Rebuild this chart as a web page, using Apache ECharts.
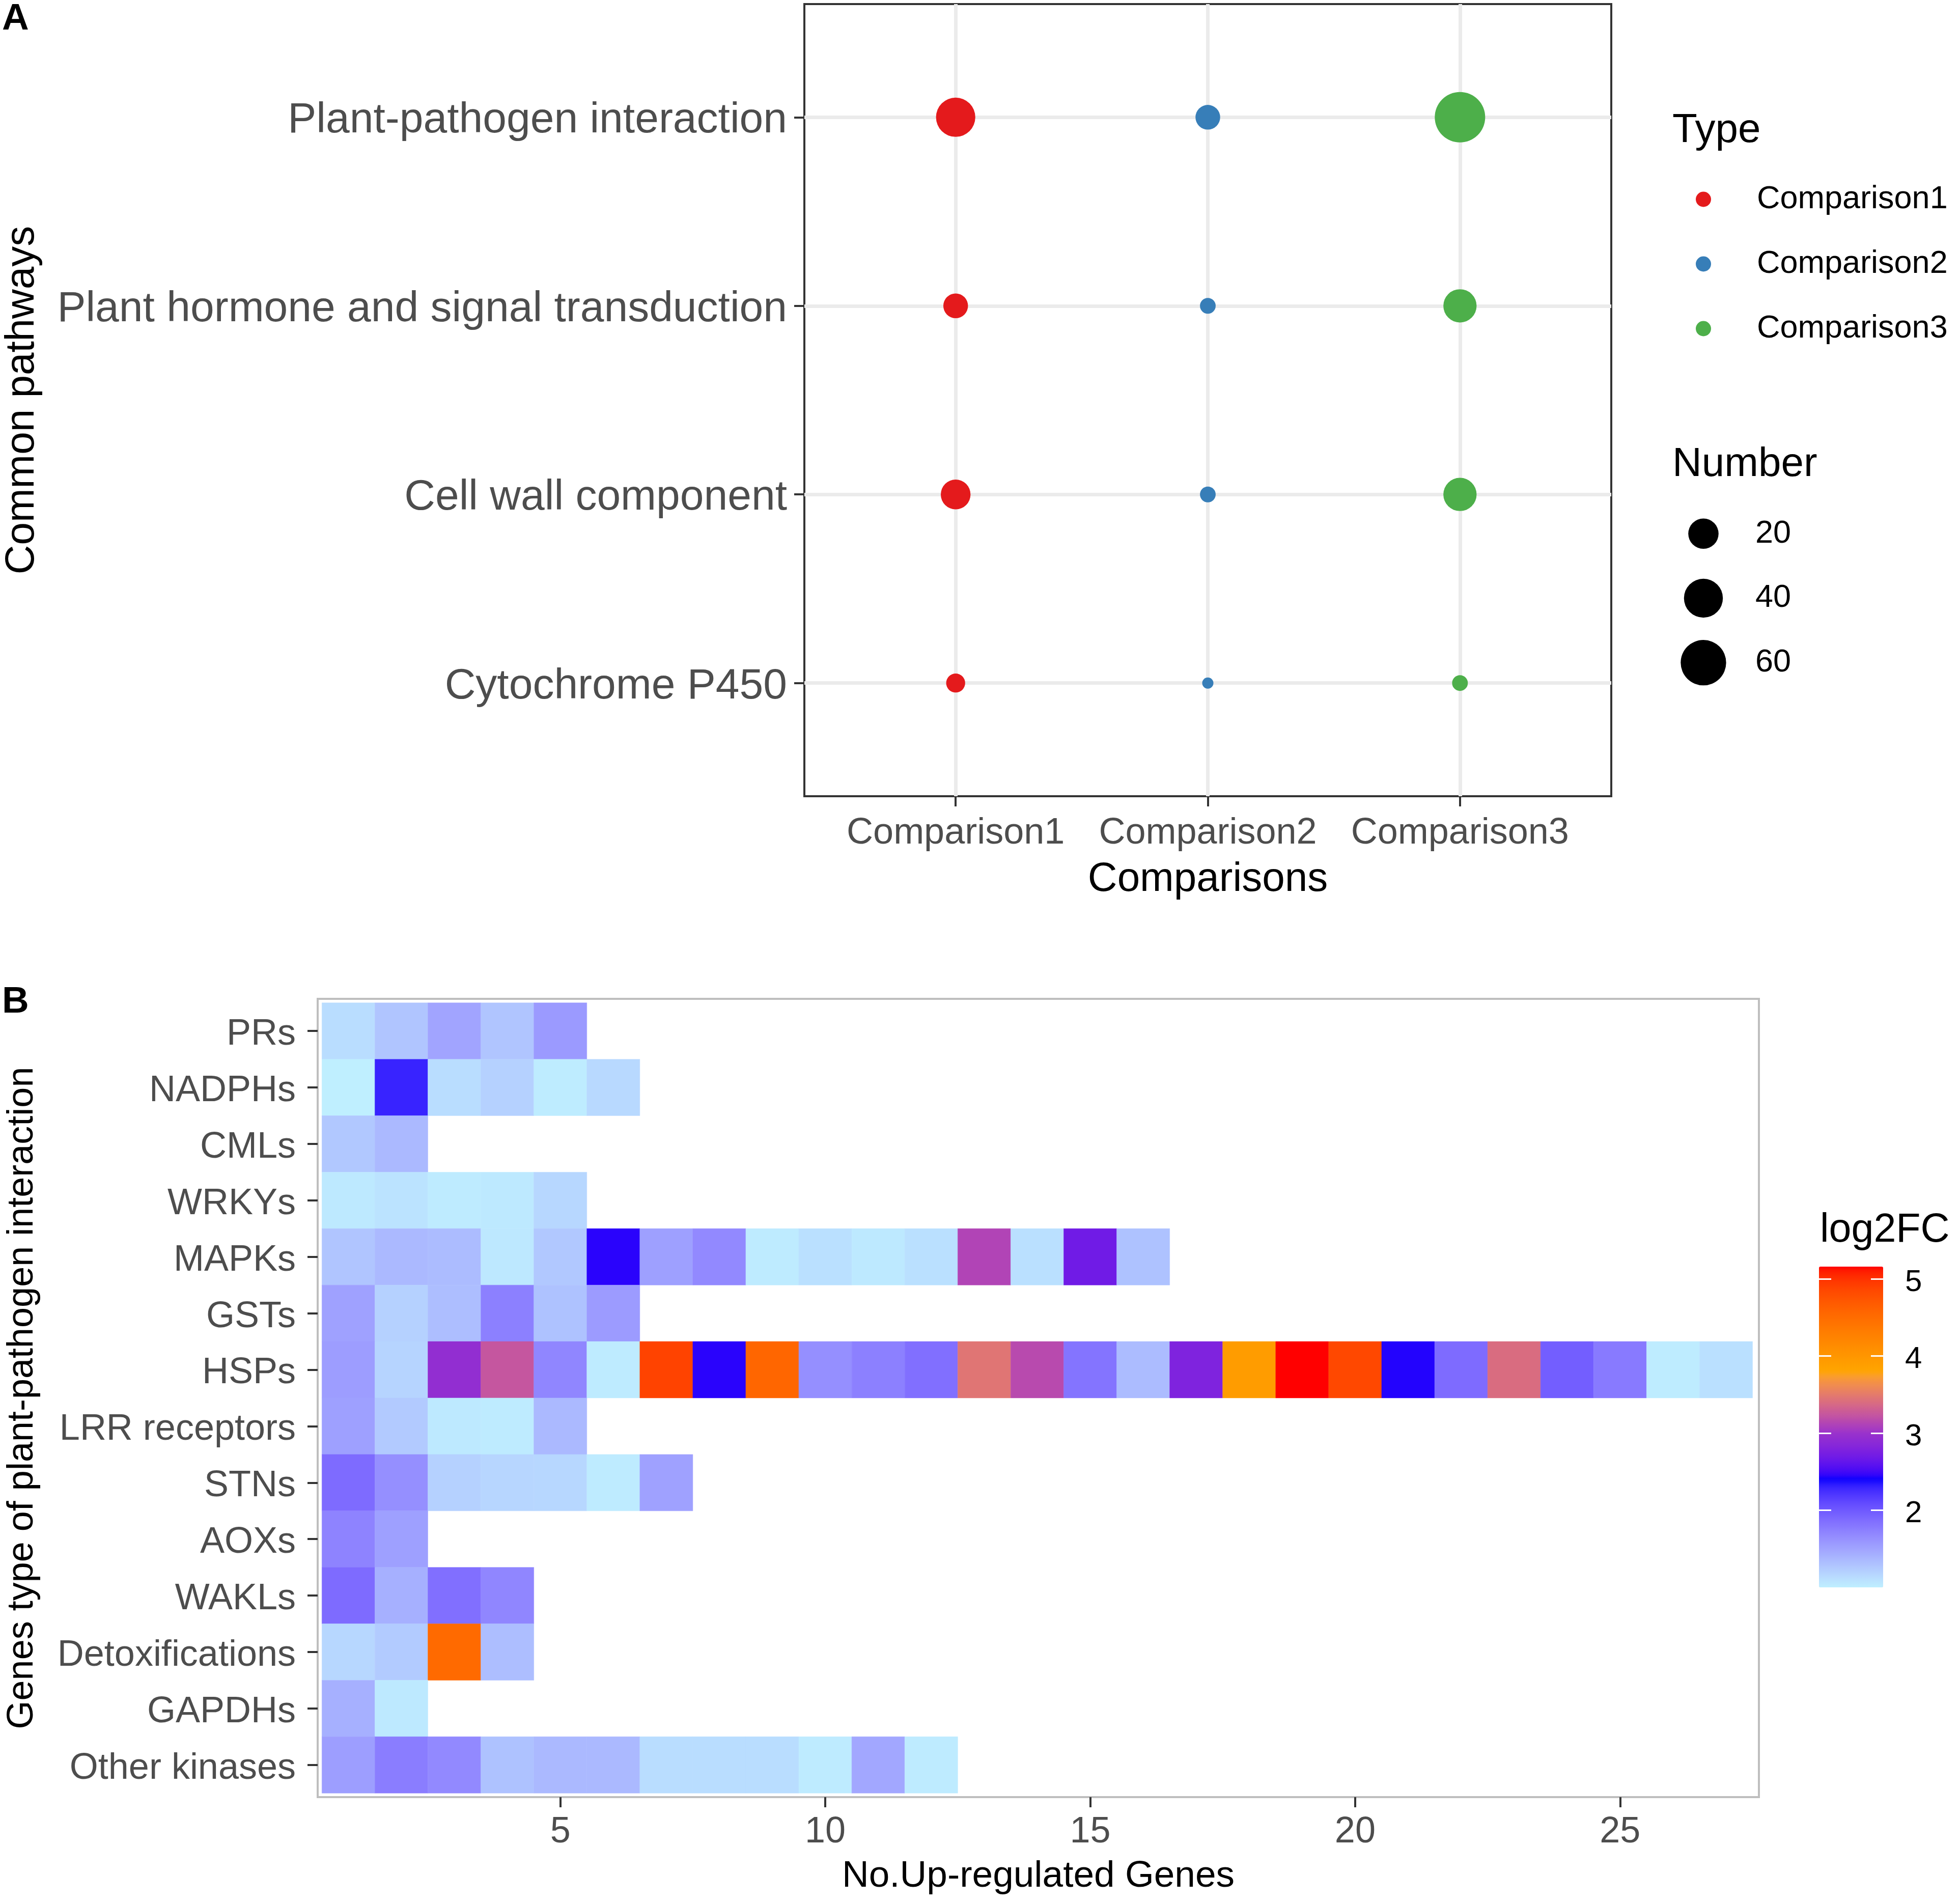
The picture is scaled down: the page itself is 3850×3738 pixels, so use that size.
<!DOCTYPE html>
<html><head><meta charset="utf-8">
<script src="https://cdn.jsdelivr.net/npm/echarts@6/dist/echarts.min.js"></script>
<style>html,body{margin:0;padding:0;background:#fff}#c{width:3850px;height:3738px}</style>
</head><body><div id="c"></div>
<script>
// ---------- Panel A data ----------
const pathways = ['Plant-pathogen interaction', 'Plant hormone and signal transduction', 'Cell wall component', 'Cytochrome P450'];
const comparisons = ['Comparison1', 'Comparison2', 'Comparison3'];
const comparison1 = [41, 11, 19, 5];
const comparison2 = [11, 3, 3, 2];
const comparison3 = [78, 26, 26, 3];
const sizeLegendValues = [20, 40, 60];
const typeColors = ['#E41A1C', '#377EB8', '#4DAF4A'];

// ---------- Panel B data ----------
const geneTypes = ['PRs', 'NADPHs', 'CMLs', 'WRKYs', 'MAPKs', 'GSTs', 'HSPs', 'LRR receptors', 'STNs', 'AOXs', 'WAKLs', 'Detoxifications', 'GAPDHs', 'Other kinases'];
const prs = [1.12, 1.28, 1.50, 1.28, 1.57];
const nadphs = [1.00, 2.30, 1.12, 1.20, 1.02, 1.15];
const cmls = [1.26, 1.36];
const wrkys = [1.04, 1.08, 1.03, 1.04, 1.16];
const mapks = [1.28, 1.36, 1.34, 1.05, 1.26, 2.44, 1.53, 1.68, 1.03, 1.10, 1.04, 1.10, 3.12, 1.10, 2.69, 1.30];
const gsts = [1.52, 1.20, 1.33, 1.74, 1.30, 1.56];
const hsps = [1.55, 1.18, 2.94, 3.24, 1.70, 1.03, 4.89, 2.44, 4.57, 1.64, 1.74, 1.85, 3.46, 3.16, 1.82, 1.34, 2.79, 3.93, 5.16, 4.85, 2.43, 1.88, 3.40, 1.97, 1.78, 1.02, 1.10];
const lrrReceptors = [1.53, 1.25, 1.04, 1.03, 1.36];
const stns = [1.88, 1.64, 1.20, 1.17, 1.16, 1.03, 1.52];
const aoxs = [1.72, 1.53];
const wakls = [1.88, 1.42, 1.85, 1.70];
const detoxifications = [1.16, 1.24, 4.53, 1.33];
const gapdhs = [1.42, 1.04];
const otherKinases = [1.54, 1.76, 1.68, 1.30, 1.36, 1.36, 1.12, 1.12, 1.12, 1.03, 1.48, 1.03];
const geneRows = [prs, nadphs, cmls, wrkys, mapks, gsts, hsps, lrrReceptors, stns, aoxs, wakls, detoxifications, gapdhs, otherKinases];
const xTicksB = [5, 10, 15, 20, 25];
const colorbarTicks = [2, 3, 4, 5];
const fcMin = 1.0, fcMax = 5.16;

// ---------- colour scale (Lab interpolation like ggplot gradientn) ----------
const colorStops = [[1.0, '#BFEFFF'], [2.4, '#0000FF'], [3.0, '#9932CC'], [3.8, '#FFA500'], [5.16, '#FF0000']];
function hex2rgb(h){h=h.replace('#','');return [0,2,4].map(i=>parseInt(h.substr(i,2),16));}
function s2l(c){c/=255;return c<=0.04045?c/12.92:Math.pow((c+0.055)/1.055,2.4);}
function l2s(c){c=c<=0.0031308?12.92*c:1.055*Math.pow(c,1/2.4)-0.055;return Math.round(Math.max(0,Math.min(1,c))*255);}
function rgb2lab(rgb){const [r,g,b]=rgb.map(s2l);const X=(0.4124*r+0.3576*g+0.1805*b)/0.95047,Y=0.2126*r+0.7152*g+0.0722*b,Z=(0.0193*r+0.1192*g+0.9505*b)/1.08883;const f=t=>t>0.008856?Math.cbrt(t):7.787*t+16/116;const fx=f(X),fy=f(Y),fz=f(Z);return [116*fy-16,500*(fx-fy),200*(fy-fz)];}
function lab2rgb(lab){const fy=(lab[0]+16)/116,fx=fy+lab[1]/500,fz=fy-lab[2]/200;const fi=t=>t>0.206893?t*t*t:(t-16/116)/7.787;const X=fi(fx)*0.95047,Y=fi(fy),Z=fi(fz)*1.08883;const r=3.2406*X-1.5372*Y-0.4986*Z,g=-0.9689*X+1.8758*Y+0.0415*Z,b=0.0557*X-0.2040*Y+1.0570*Z;return 'rgb('+[r,g,b].map(l2s).join(',')+')';}
const stopLabs = colorStops.map(s => [s[0], rgb2lab(hex2rgb(s[1]))]);
function scaleColor(v){for(let i=0;i<stopLabs.length-1;i++){const a=stopLabs[i],b=stopLabs[i+1];if(v<=b[0]||i===stopLabs.length-2){const t=Math.max(0,Math.min(1,(v-a[0])/(b[0]-a[0])));return lab2rgb([0,1,2].map(k=>a[1][k]+(b[1][k]-a[1][k])*t));}}}
const rampColors = [];
for (let i = 0; i <= 208; i++) rampColors.push(scaleColor(fcMin + (fcMax - fcMin) * i / 208));

// ---------- helpers ----------
const FONT = 'Liberation Sans, Arial, sans-serif';
function pointSize(v){ return 22 + 77 * Math.sqrt(Math.max(0, (v - 2) / 76)); }
const compValues = [comparison1, comparison2, comparison3];

const scatterSeries = comparisons.map((name, k) => ({
  type: 'scatter', name: name, xAxisIndex: 0, yAxisIndex: 0,
  data: pathways.map((p, i) => [k + 1, i + 1, compValues[k][i]]),
  symbolSize: d => pointSize(d[2]),
  itemStyle: { color: typeColors[k], opacity: 1 },
  silent: true, z: 5
}));

const heatData = [];
geneRows.forEach((row, i) => row.forEach((v, j) => heatData.push([j + 1, i + 1, v])));

const option = {
  backgroundColor: '#ffffff',
  animation: false,
  textStyle: { fontFamily: FONT },
  title: [
    { text: 'A', left: 4, top: 1, padding: 0, textStyle: { fontSize: 73, fontWeight: 'bold', color: '#000', lineHeight: 73, fontFamily: FONT } },
    { text: 'B', left: 4, top: 1932, padding: 0, textStyle: { fontSize: 73, fontWeight: 'bold', color: '#000', lineHeight: 73, fontFamily: FONT } },
    { text: 'Type', left: 3285, top: 217, padding: 0, textStyle: { fontSize: 80, fontWeight: 'normal', color: '#000', lineHeight: 80, fontFamily: FONT } },
    { text: 'Number', left: 3285, top: 873, padding: 0, textStyle: { fontSize: 80, fontWeight: 'normal', color: '#000', lineHeight: 80, fontFamily: FONT } },
    { text: 'log2FC', left: 3575, top: 2378, padding: 0, textStyle: { fontSize: 79, fontWeight: 'normal', color: '#000', lineHeight: 79, fontFamily: FONT } }
  ],
  legend: {
    data: comparisons, orient: 'vertical', left: 3331, top: 360, padding: 0,
    itemWidth: 200, itemHeight: 30, itemGap: 64, icon: 'circle', selectedMode: false,
    textStyle: { fontSize: 63, color: '#000', fontFamily: FONT }
  },
  grid: [
    { left: 1580, top: 8, width: 1585, height: 1556, show: true, borderColor: '#333333', borderWidth: 4, backgroundColor: 'transparent', containLabel: false },
    { left: 623, top: 1962, width: 2832, height: 1568, show: true, borderColor: '#BEBEBE', borderWidth: 4, backgroundColor: 'transparent', containLabel: false },
    { left: 3296, top: 985, width: 100, height: 380, show: false },
    { left: 3573, top: 2488, width: 126, height: 630, show: false }
  ],
  xAxis: [
    { gridIndex: 0, type: 'value', min: 0.4, max: 3.6,
      axisLine: { show: false },
      axisTick: { show: true, length: 20, lineStyle: { color: '#333', width: 4 }, customValues: [1, 2, 3] },
      axisLabel: { customValues: [1, 2, 3], formatter: v => comparisons[Math.round(v) - 1], fontSize: 72, color: '#4D4D4D', margin: 37, lineHeight: 72, fontFamily: FONT },
      splitLine: { show: true, lineStyle: { color: '#EBEBEB', width: 7 } },
      name: 'Comparisons', nameLocation: 'middle', nameGap: 124,
      nameTextStyle: { fontSize: 80, color: '#000', lineHeight: 80, fontFamily: FONT } },
    { gridIndex: 1, type: 'value', min: 0.42, max: 27.62,
      axisLine: { show: false },
      axisTick: { show: true, length: 20, lineStyle: { color: '#333', width: 4 }, customValues: xTicksB },
      axisLabel: { customValues: xTicksB, fontSize: 72, color: '#4D4D4D', margin: 33, lineHeight: 72, fontFamily: FONT },
      splitLine: { show: false },
      name: 'No.Up-regulated Genes', nameLocation: 'middle', nameGap: 119,
      nameTextStyle: { fontSize: 73, color: '#000', lineHeight: 73, fontFamily: FONT } },
    { gridIndex: 2, type: 'value', min: 0, max: 2, show: false },
    { gridIndex: 3, type: 'value', min: 0, max: 1, show: false }
  ],
  yAxis: [
    { gridIndex: 0, type: 'value', min: 0.4, max: 4.6, inverse: true,
      axisLine: { show: false },
      axisTick: { show: true, length: 20, lineStyle: { color: '#333', width: 4 }, customValues: [1, 2, 3, 4] },
      axisLabel: { customValues: [1, 2, 3, 4], formatter: v => pathways[Math.round(v) - 1], fontSize: 84, color: '#4D4D4D', margin: 34, verticalAlign: 'top', lineHeight: 14, fontFamily: FONT },
      splitLine: { show: true, lineStyle: { color: '#EBEBEB', width: 7 } },
      name: 'Common pathways', nameLocation: 'middle', nameGap: 1496, nameRotate: 90,
      nameTextStyle: { fontSize: 80, color: '#000', lineHeight: 80, fontFamily: FONT } },
    { gridIndex: 1, type: 'value', min: 0.43, max: 14.57, inverse: true,
      axisLine: { show: false },
      axisTick: { show: true, length: 20, lineStyle: { color: '#333', width: 4 }, customValues: geneTypes.map((g, i) => i + 1) },
      axisLabel: { customValues: geneTypes.map((g, i) => i + 1), formatter: v => geneTypes[Math.round(v) - 1], fontSize: 72, color: '#4D4D4D', margin: 43, verticalAlign: 'top', lineHeight: 14, fontFamily: FONT },
      splitLine: { show: false },
      name: 'Genes type of plant-pathogen interaction', nameLocation: 'middle', nameGap: 544, nameRotate: 90,
      nameTextStyle: { fontSize: 72, color: '#000', lineHeight: 72, fontFamily: FONT } },
    { gridIndex: 2, type: 'value', min: 0.5, max: 3.5, inverse: true, show: false },
    { gridIndex: 3, type: 'value', min: fcMin, max: fcMax, position: 'left', z: 10,
      axisLine: { show: false },
      axisTick: { show: true, inside: true, length: 24, lineStyle: { color: '#fff', width: 3 }, customValues: colorbarTicks },
      axisLabel: { show: false }, splitLine: { show: false } },
    { gridIndex: 3, type: 'value', min: fcMin, max: fcMax, position: 'right', z: 10,
      axisLine: { show: false },
      axisTick: { show: true, inside: true, length: 24, lineStyle: { color: '#fff', width: 3 }, customValues: colorbarTicks },
      axisLabel: { show: true, customValues: colorbarTicks, fontSize: 60, color: '#000', margin: 43, verticalAlign: 'top', lineHeight: 14, fontFamily: FONT },
      splitLine: { show: false } }
  ],
  visualMap: [{
    type: 'continuous', seriesIndex: 4, dimension: 2, min: fcMin, max: fcMax,
    left: 3573, top: 2488, itemWidth: 126, itemHeight: 630, padding: 0,
    calculable: false, realtime: false, hoverLink: false, showLabel: false, text: null,
    inRange: { color: rampColors }
  }],
  series: scatterSeries.concat([
    { type: 'scatter', name: 'sizeLegend', xAxisIndex: 2, yAxisIndex: 2, silent: true,
      data: sizeLegendValues.map((v, i) => [1, i + 1, v]),
      symbolSize: d => pointSize(d[2]),
      itemStyle: { color: '#000', opacity: 1 },
      label: { show: true, position: 'inside', align: 'left', offset: [102, 0], formatter: p => String(p.value[2]), fontSize: 63, color: '#000', fontFamily: FONT } },
    { type: 'custom', name: 'heat', xAxisIndex: 1, yAxisIndex: 1, silent: true,
      data: heatData, encode: { x: 0, y: 1 },
      renderItem: function (params, api) {
        const x = api.value(0), y = api.value(1);
        const p0 = api.coord([x - 0.5, y - 0.5]);
        const p1 = api.coord([x + 0.5, y + 0.5]);
        const c = api.visual('color');
        return { type: 'rect',
          shape: { x: Math.min(p0[0], p1[0]), y: Math.min(p0[1], p1[1]), width: Math.abs(p1[0] - p0[0]), height: Math.abs(p1[1] - p0[1]) },
          style: { fill: c, stroke: c, lineWidth: 0.5 } };
      } }
  ])
};
const chart = echarts.init(document.getElementById('c'), null, { renderer: 'canvas' });
chart.setOption(option);
</script></body></html>
